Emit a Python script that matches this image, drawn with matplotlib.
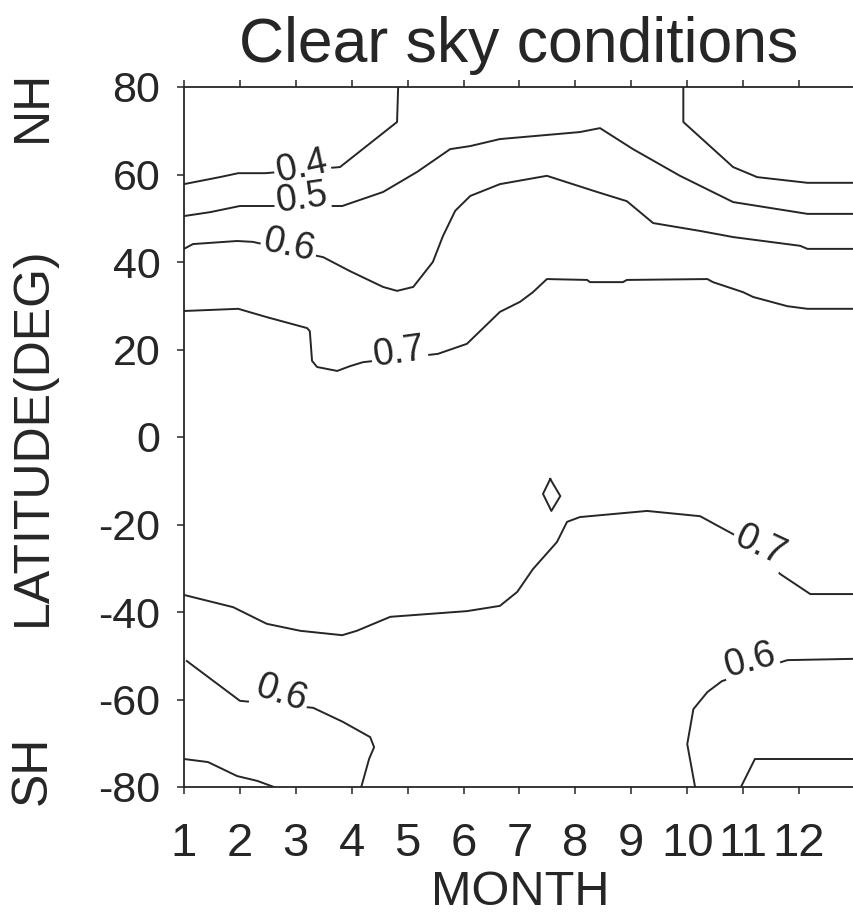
import matplotlib
matplotlib.use("Agg")
import matplotlib.pyplot as plt
import numpy as np

plt.rcParams['font.family'] = ['Liberation Sans', 'DejaVu Sans']

# isolines: month (1..13) and latitude (deg)
c04_left_month = [1.0, 1.64, 1.97, 2.45, 3.79, 4.81, 4.83]
c04_left_lat = [57.8, 59.4, 60.3, 60.3, 61.7, 72.0, 80.0]
c04_right_month = [9.93, 9.93, 10.82, 11.25, 12.15, 13.0]
c04_right_lat = [80.0, 72.0, 61.7, 59.4, 58.1, 58.1]

c05_month = [1.0, 1.47, 2.0, 2.45, 3.83, 4.56, 5.17, 5.76, 6.12, 6.65, 8.08,
             8.44, 9.03, 9.87, 10.82, 12.15, 13.0]
c05_lat = [50.5, 51.4, 52.8, 52.8, 52.8, 56.0, 60.6, 65.8, 66.5, 68.1, 69.7,
           70.6, 65.8, 59.7, 53.7, 51.0, 51.0]

c06_month = [1.0, 1.16, 1.95, 2.23, 3.49, 3.97, 4.56, 4.81, 5.10, 5.45, 5.63,
             5.85, 6.12, 6.65, 7.49, 8.39, 8.92, 9.39, 10.23, 10.82, 12.02,
             12.15, 13.0]
c06_lat = [43.0, 44.1, 44.8, 44.6, 41.1, 37.9, 34.3, 33.4, 34.3, 40.0, 45.9,
           51.7, 55.1, 57.8, 59.7, 56.0, 53.9, 48.9, 47.1, 45.7, 43.7, 43.0, 43.0]

c07n_month = [1.0, 1.97, 2.48, 3.20, 3.25, 3.29, 3.38, 3.74, 3.97, 4.20, 5.54,
              6.06, 6.65, 7.01, 7.24, 7.49, 8.21, 8.26, 8.85, 8.92, 10.36,
              10.46, 11.00, 11.18, 11.79, 12.15, 13.0]
c07n_lat = [28.8, 29.3, 27.4, 24.9, 24.2, 17.4, 16.0, 15.1, 16.2, 17.1, 19.0,
            21.3, 28.6, 30.9, 33.1, 36.1, 35.9, 35.4, 35.4, 35.9, 36.1, 35.4,
            33.1, 32.0, 29.9, 29.3, 29.3]

c07s_month = [1.0, 1.88, 2.48, 3.08, 3.83, 4.09, 4.69, 6.06, 6.65, 6.96, 7.24,
              7.67, 7.85, 8.08, 9.28, 10.23, 10.82, 11.30, 11.66, 12.20, 13.0]
c07s_lat = [-36.1, -38.9, -42.7, -44.3, -45.3, -44.3, -41.1, -39.8, -38.6,
            -35.4, -30.2, -24.0, -19.4, -18.3, -16.9, -18.1, -22.2, -26.7,
            -31.3, -35.9, -35.9]

# small closed loop near 7.5 / -13
loop_month = [7.55, 7.73, 7.57, 7.42, 7.55]
loop_lat = [-9.6, -13.5, -16.9, -13.0, -9.6]

c06sw_month = [1.05, 2.0, 3.31, 3.84, 4.33, 4.40, 4.31, 4.17]
c06sw_lat = [-51.2, -60.3, -61.9, -65.1, -68.6, -70.9, -73.6, -80.0]
c05sw_month = [1.0, 1.43, 1.95, 2.31, 2.61]
c05sw_lat = [-73.6, -74.3, -77.5, -78.6, -80.0]

c06se_month = [10.14, 10.0, 10.11, 10.36, 10.62, 11.79, 13.0]
c06se_lat = [-80.0, -70.2, -62.2, -58.3, -55.8, -51.0, -50.7]
c05se_month = [10.96, 11.21, 13.0]
c05se_lat = [-80.0, -73.6, -73.6]

# inline labels: text, month, latitude, angle
label_text = ['0.4', '0.5', '0.6', '0.7', '0.7', '0.6', '0.6']
label_month = [3.11, 3.11, 2.88, 4.85, 11.30, 2.74, 11.13]
label_lat = [61.8, 54.6, 43.7, 19.4, -24.9, -58.7, -51.2]
label_rot = [12, 8, -12, 8, -25, -18, 15]

months = list(range(1, 13))
lat_ticks = [80, 60, 40, 20, 0, -20, -40, -60, -80]

ink = '#262626'

fig = plt.figure(figsize=(8.54, 9.14), dpi=100)
ax = fig.add_axes([184/854, 1 - 787/914, 671/854, 700/914])

lines = [(c04_left_month, c04_left_lat), (c04_right_month, c04_right_lat),
         (c05_month, c05_lat), (c06_month, c06_lat),
         (c07n_month, c07n_lat), (c07s_month, c07s_lat),
         (loop_month, loop_lat), (c06sw_month, c06sw_lat),
         (c05sw_month, c05sw_lat), (c06se_month, c06se_lat),
         (c05se_month, c05se_lat)]
for m, la in lines:
    ax.plot(m, la, color=ink, lw=1.4, zorder=1)

# label backgrounds first, then the label text on top of all of them
for t, m, la, r in zip(label_text, label_month, label_lat, label_rot):
    ax.text(m, la, t, fontsize=27, rotation=r, ha='center', va='center',
            color='white', rotation_mode='anchor', zorder=2,
            bbox=dict(facecolor='white', edgecolor='none', pad=1.5))
for t, m, la, r in zip(label_text, label_month, label_lat, label_rot):
    ax.text(m, la, t, fontsize=27, rotation=r, ha='center', va='center',
            color=ink, rotation_mode='anchor', zorder=3)

ax.set_xlim(1, 13)
ax.set_ylim(-80, 80)
ax.set_xticks(months)
ax.set_xticklabels([str(m) for m in months], fontsize=34, color=ink)
ax.set_yticks(lat_ticks)
ax.set_yticklabels([str(v) for v in lat_ticks], fontsize=31, color=ink)
ax.tick_params(axis='x', direction='out', length=5, width=1.1, top=True,
               pad=20, colors=ink)
ax.tick_params(axis='y', direction='out', length=5, width=1.1, pad=12,
               colors=ink)
for s in ax.spines.values():
    s.set_linewidth(1.3)
    s.set_color(ink)

fig.text(519/854, 1 - 62/914, 'Clear sky conditions', fontsize=45,
         ha='center', va='baseline', color=ink)
fig.text(520/854, 1 - 905/914, 'MONTH', fontsize=35, ha='center',
         va='baseline', color=ink)
fig.text(33/854, 1 - 106/914, 'NH', fontsize=36, rotation=90,
         ha='center', va='center', color=ink)
fig.text(33/854, 1 - 436/914, 'LATITUDE(DEG)', fontsize=36, rotation=90,
         ha='center', va='center', color=ink)
fig.text(33/854, 1 - 770/914, 'SH', fontsize=36, rotation=90,
         ha='center', va='center', color=ink)

fig.savefig('out.png', dpi=100)
